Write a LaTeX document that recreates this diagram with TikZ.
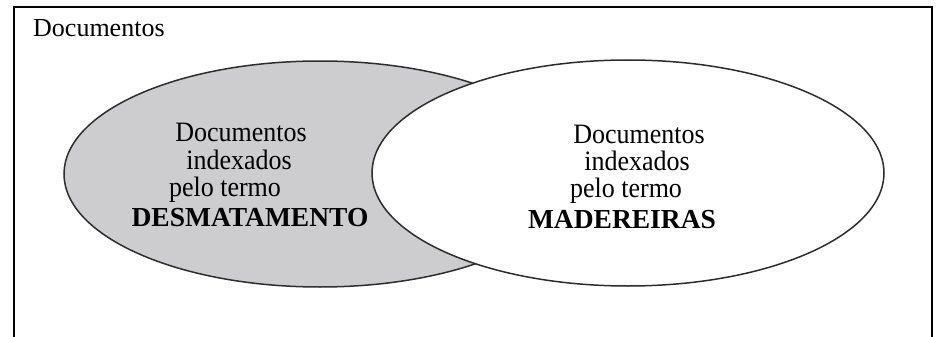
\documentclass[tikz,border=0pt]{standalone}
\usepackage{fontspec}
\setmainfont{Liberation Serif}
\usetikzlibrary{shapes.geometric}
\definecolor{setgray}{RGB}{205,205,208}
\definecolor{edgegray}{RGB}{45,45,45}
\newcommand{\tallline}[2]{\scalebox{1}[#1]{#2}}
\tikzset{
  setshape/.style={ellipse, draw=edgegray, line width=1.5pt,
    minimum width=512pt, minimum height=226pt, inner sep=0pt},
  label/.style={anchor=base, inner sep=0pt, font=\fontsize{26}{30}\selectfont},
  term/.style={label, font=\fontsize{27.5}{30}\selectfont\bfseries},
}
\begin{document}
\begin{tikzpicture}[x=1pt, y=-1pt]
  \useasboundingbox (0,0) rectangle (938,337);
  \fill[white] (0,0) rectangle (938,337);
  % universe frame, open at the bottom
  \draw[line width=2pt, black] (14,337) -- (14,7) -- (932,7) -- (932,337);
  \node[anchor=base west, inner sep=0pt, font=\fontsize{26}{30}\selectfont] (universe) at (33,37) {Documentos};
  % the two sets
  \node[setshape, fill=setgray] (desm) at (320,174) {};
  \node[setshape, fill=white] (made) at (628,173) {};
  % left set text
  \node[label] (l1) at (241,142) {\tallline{1.08}{Documentos}};
  \node[label] (l2) at (239,169) {\tallline{1.08}{indexados}};
  \node[label] (l3) at (225,196) {\tallline{1.08}{pelo termo}};
  \node[term]  (l4) at (250,226) {DESMATAMENTO};
  % right set text
  \node[label] (r1) at (639,143) {\tallline{1.08}{Documentos}};
  \node[label] (r2) at (637,170) {\tallline{1.08}{indexados}};
  \node[label] (r3) at (626,197) {\tallline{1.08}{pelo termo}};
  \node[term]  (r4) at (622,228) {MADEREIRAS};
\end{tikzpicture}
\end{document}
